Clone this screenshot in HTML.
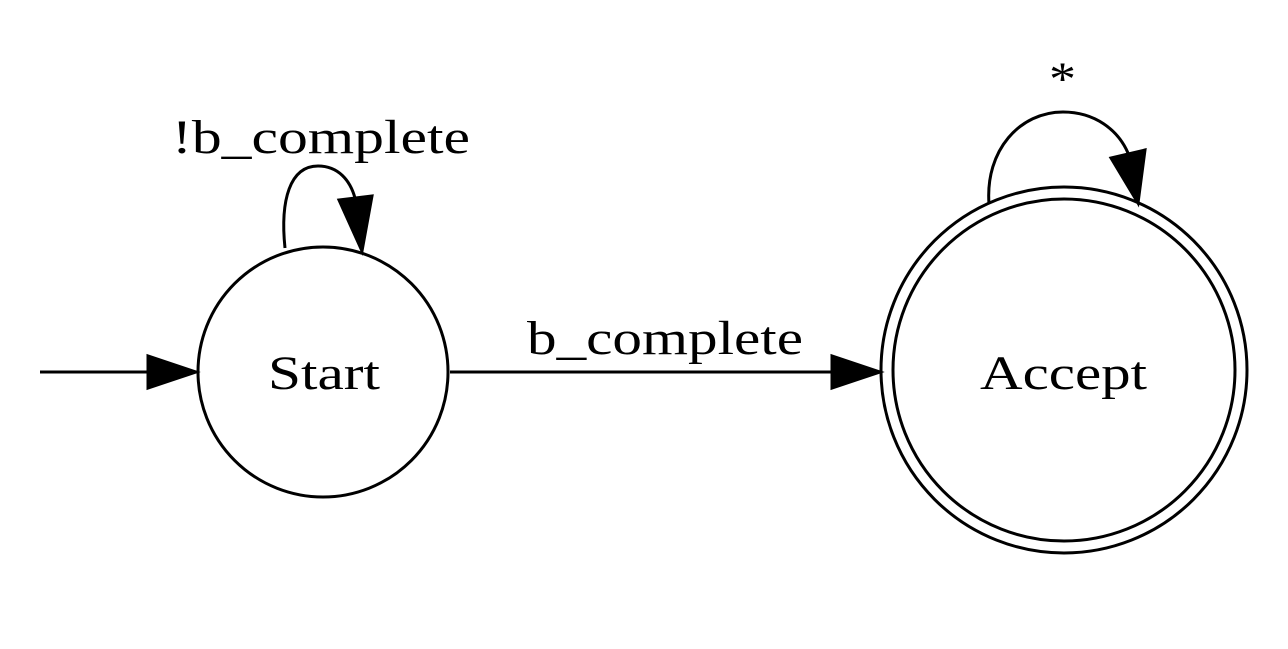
<!DOCTYPE html>
<html><head><style>html,body{margin:0;padding:0;background:#fff}</style></head>
<body>
<svg width="1288" height="644" viewBox="0 0 1288 644" xmlns="http://www.w3.org/2000/svg" font-family="Liberation Serif, serif" fill="none" stroke="#000" stroke-width="3">
<circle cx="323" cy="372" r="125"/>
<circle cx="1064" cy="370" r="183"/>
<circle cx="1064" cy="370" r="171"/>
<line x1="40" y1="372" x2="152" y2="372"/>
<polygon points="196,372 148,356 148,388" fill="#000"/>
<line x1="450" y1="372" x2="835" y2="372"/>
<polygon points="880,372 832,356 832,388" fill="#000"/>
<path d="M285,248 C280,200 290,166 318,166 C338,166 350,180 355,198"/>
<polygon points="362,251 339,200 372,196" fill="#000"/>
<path d="M989,204 C985,150 1020,112 1063,112 C1095,112 1118,130 1128,153"/>
<polygon points="1138,203 1111,158 1145,150" fill="#000"/>
<g fill="#000" stroke="none" font-size="48">
<text x="268" y="389" textLength="112" lengthAdjust="spacingAndGlyphs">Start</text>
<text x="980" y="389" textLength="167" lengthAdjust="spacingAndGlyphs">Accept</text>
<text x="527" y="354" textLength="276" lengthAdjust="spacingAndGlyphs">b_complete</text>
<text x="172" y="153" textLength="298" lengthAdjust="spacingAndGlyphs">!b_complete</text>
<text x="1049" y="95" textLength="27" lengthAdjust="spacingAndGlyphs">*</text>
</g>
</svg>
</body></html>
